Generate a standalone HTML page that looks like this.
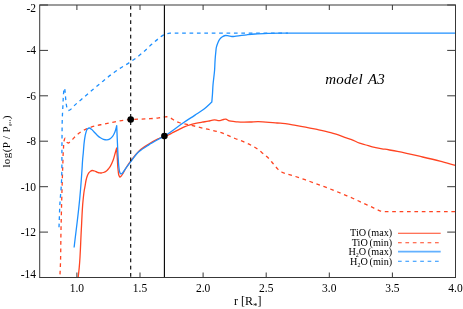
<!DOCTYPE html>
<html><head><meta charset="utf-8"><title>model A3</title>
<style>
html,body{margin:0;padding:0;background:#fff;}
svg{display:block;font-family:"Liberation Serif",serif;will-change:transform;transform:translateZ(0);}
</style></head><body>
<svg width="463" height="309" viewBox="0 0 463 309">
<rect x="0" y="0" width="463" height="309" fill="#ffffff"/>
<g fill="none" stroke-width="1.3" stroke-linejoin="round">
<path stroke="#ff4422" d="M78.20,277.10C78.53,274.03 78.90,270.97 79.20,267.90C80.44,255.31 80.57,242.63 81.30,230.00C81.88,220.00 82.06,209.96 83.10,200.00C83.45,196.66 83.73,193.31 84.30,190.00C84.54,188.63 84.85,187.27 85.10,185.90C85.43,184.11 85.60,182.28 86.00,180.50C86.28,179.26 86.58,178.01 87.00,176.80C87.29,175.95 87.58,175.09 88.00,174.30C88.29,173.75 88.61,173.19 89.00,172.70C89.43,172.15 89.92,171.58 90.50,171.20C91.00,170.87 91.62,170.57 92.20,170.50C92.94,170.41 93.75,170.77 94.50,171.00C95.51,171.31 96.40,171.95 97.40,172.30C98.09,172.54 98.79,172.79 99.50,172.90C100.09,172.99 100.71,173.04 101.30,173.00C102.04,172.95 102.79,172.74 103.50,172.50C104.52,172.15 105.54,171.65 106.40,171.00C107.20,170.40 107.85,169.58 108.50,168.80C109.15,168.01 109.75,167.16 110.30,166.30C111.53,164.36 112.38,162.16 113.20,160.00C114.18,157.41 114.71,154.66 115.50,152.00C115.89,150.67 116.30,149.33 116.70,148.00C116.90,151.33 117.09,154.67 117.30,158.00C117.58,162.33 117.56,166.71 118.20,171.00C118.42,172.51 118.35,174.15 119.00,175.50C119.27,176.06 119.57,177.12 120.00,177.10C120.29,177.09 120.69,176.59 121.00,176.30C121.87,175.48 122.36,174.32 123.00,173.30C124.08,171.58 124.94,169.73 126.00,168.00C127.43,165.67 128.99,163.41 130.60,161.20C133.22,157.61 135.84,153.87 139.10,150.90C141.99,148.27 145.45,146.19 148.80,144.10C151.94,142.14 155.18,140.34 158.50,138.70C160.44,137.74 162.34,136.62 164.40,136.00C165.41,135.70 166.50,135.62 167.50,135.30C169.33,134.72 170.97,133.57 172.70,132.70C174.73,131.68 176.77,130.67 178.80,129.65C180.83,128.63 182.81,127.47 184.90,126.60C186.56,125.91 188.28,125.32 190.00,124.80C191.84,124.24 193.72,123.81 195.60,123.40C197.72,122.93 199.86,122.57 202.00,122.20C204.09,121.84 206.21,121.58 208.30,121.20C210.41,120.82 212.50,119.77 214.60,119.90C215.73,119.97 216.86,120.54 218.00,120.60C218.96,120.65 219.96,120.60 220.90,120.40C221.79,120.22 222.61,119.70 223.50,119.50C224.28,119.32 225.14,119.06 225.90,119.20C226.64,119.34 227.28,119.99 228.00,120.30C228.96,120.70 229.99,120.96 231.00,121.20C233.14,121.71 235.40,121.74 237.60,121.90C241.72,122.20 245.87,122.12 250.00,122.00C252.60,121.93 255.20,121.63 257.80,121.60C263.71,121.52 269.60,122.52 275.50,122.90C277.10,123.00 278.70,123.07 280.30,123.20C285.43,123.62 290.51,124.58 295.60,125.40C298.91,125.93 302.21,126.48 305.50,127.10C308.94,127.75 312.37,128.47 315.80,129.20C320.78,130.26 325.80,131.22 330.70,132.60C332.48,133.10 334.24,133.64 336.00,134.20C339.71,135.38 343.30,136.92 347.00,138.10C348.30,138.51 349.62,138.86 350.90,139.30C353.89,140.33 356.62,142.05 359.60,143.10C361.69,143.84 363.87,144.36 366.00,145.00C368.07,145.62 370.11,146.35 372.20,146.90C376.39,148.00 380.73,148.44 385.00,149.20C389.13,149.94 393.28,150.61 397.40,151.40C405.85,153.02 414.22,155.04 422.60,157.00C428.41,158.36 434.22,159.73 440.00,161.20C445.15,162.51 450.27,163.93 455.40,165.30"/>
<path stroke="#ff4422" stroke-dasharray="3.7 3.7" d="M60.00,274.40C60.10,272.27 60.21,270.13 60.30,268.00C60.84,255.34 60.73,242.67 61.00,230.00C61.29,216.67 61.61,203.33 62.00,190.00C62.24,181.67 62.49,173.33 62.80,165.00C63.01,159.33 63.04,153.65 63.50,148.00C63.72,145.33 63.47,142.53 64.30,140.00C64.50,139.39 64.71,138.16 65.00,138.20C65.23,138.23 65.55,139.06 65.80,139.50C66.34,140.46 66.34,141.93 67.20,142.50C67.56,142.74 68.09,143.05 68.50,143.00C68.89,142.95 69.25,142.55 69.60,142.30C70.50,141.66 71.21,140.78 72.00,140.00C73.37,138.64 74.58,137.11 76.00,135.80C77.27,134.63 78.60,133.49 80.00,132.50C82.28,130.89 84.83,129.60 87.40,128.50C89.84,127.45 92.43,126.70 95.00,126.00C97.82,125.24 100.73,124.80 103.60,124.20C107.40,123.40 111.19,122.52 115.00,121.80C118.75,121.09 122.50,120.26 126.30,119.90C127.83,119.76 129.37,119.69 130.90,119.60C135.60,119.31 140.30,119.10 145.00,118.90C146.67,118.83 148.34,118.80 150.00,118.70C152.91,118.53 155.81,118.28 158.70,117.90C160.61,117.65 162.49,117.19 164.40,117.00C165.43,116.90 166.50,116.65 167.50,116.80C168.39,116.93 169.27,117.33 170.10,117.70C171.68,118.39 172.98,119.67 174.50,120.50C175.89,121.25 177.31,122.00 178.80,122.50C180.22,122.98 181.73,123.17 183.20,123.50C185.46,124.01 187.74,124.48 190.00,125.00C195.02,126.15 200.00,127.48 205.00,128.70C210.00,129.92 215.12,130.73 220.00,132.30C225.17,133.96 230.05,136.47 235.10,138.50C239.29,140.19 243.65,141.52 247.70,143.50C251.18,145.20 254.65,147.05 257.80,149.30C259.61,150.59 261.29,152.07 263.00,153.50C265.03,155.20 267.17,156.80 269.00,158.70C270.44,160.20 271.66,161.91 273.00,163.50C274.52,165.31 275.97,167.19 277.60,168.90C278.22,169.55 278.79,170.26 279.50,170.80C280.11,171.27 280.81,171.65 281.50,172.00C282.21,172.35 282.97,172.60 283.70,172.90C289.27,174.63 294.88,176.23 300.40,178.10C303.62,179.19 306.80,180.35 310.00,181.50C315.21,183.37 320.43,185.22 325.60,187.20C327.91,188.08 330.20,188.99 332.50,189.90C337.35,191.82 342.20,193.75 347.00,195.80C349.07,196.68 351.14,197.59 353.20,198.50C357.83,200.56 362.38,202.81 367.00,204.90C369.16,205.88 371.34,206.82 373.50,207.80C375.88,208.88 378.09,210.43 380.60,211.10C381.39,211.31 382.20,211.43 383.00,211.60C407.17,211.60 431.33,211.60 455.50,211.60"/>
<path stroke="#1e90ff" d="M74.10,247.50C75.93,231.67 78.10,215.87 79.60,200.00C79.91,196.67 80.22,193.33 80.50,190.00C81.12,182.67 81.62,175.34 82.10,168.00C82.27,165.33 82.38,162.66 82.60,160.00C82.77,157.90 83.00,155.80 83.20,153.70C83.61,149.37 83.76,145.00 84.40,140.70C84.80,137.99 85.02,135.19 85.90,132.60C86.32,131.37 86.48,129.81 87.40,129.00C87.93,128.54 88.75,127.99 89.40,128.00C90.12,128.01 90.85,128.80 91.50,129.30C92.41,130.00 93.10,130.97 93.90,131.80C94.93,132.87 95.91,133.99 97.00,135.00C98.08,135.99 99.17,137.01 100.40,137.80C101.37,138.42 102.41,139.05 103.50,139.40C104.58,139.74 105.78,139.99 106.90,139.90C107.78,139.83 108.72,139.60 109.50,139.20C110.33,138.78 111.05,138.08 111.70,137.40C112.39,136.69 112.98,135.85 113.50,135.00C114.11,134.00 114.58,132.90 115.00,131.80C115.41,130.73 115.70,129.61 116.00,128.50C116.26,127.54 116.47,126.57 116.70,125.60C116.93,131.17 117.15,136.73 117.40,142.30C117.65,147.70 117.82,153.11 118.20,158.50C118.43,161.67 118.52,164.86 119.00,168.00C119.22,169.44 119.22,170.98 119.80,172.30C120.00,172.75 120.11,173.37 120.50,173.60C120.72,173.73 121.05,173.81 121.30,173.80C121.74,173.78 122.15,173.31 122.50,173.00C123.15,172.42 123.50,171.53 124.00,170.80C126.12,167.74 128.32,164.74 130.60,161.80C133.32,158.31 135.84,154.53 139.10,151.60C142.00,149.00 145.48,147.00 148.80,144.90C151.95,142.91 155.24,141.11 158.50,139.30C160.46,138.21 162.46,137.22 164.40,136.10C170.96,132.31 176.72,127.25 183.00,123.00C186.97,120.32 191.01,117.75 195.00,115.10C198.04,113.08 201.23,111.24 204.10,109.00C206.81,106.88 209.23,104.40 211.80,102.10C212.00,99.73 212.22,97.37 212.40,95.00C212.65,91.67 212.74,88.33 213.00,85.00C213.39,79.99 214.24,75.01 214.60,70.00C214.84,66.67 214.86,63.33 215.10,60.00C215.29,57.33 215.51,54.66 215.80,52.00C215.98,50.40 216.04,48.76 216.40,47.20C216.73,45.77 217.23,44.36 217.80,43.00C218.32,41.77 218.81,40.46 219.60,39.40C220.27,38.50 221.09,37.64 222.00,37.00C223.00,36.30 224.21,35.64 225.40,35.50C226.40,35.38 227.47,35.74 228.50,35.90C229.64,36.07 230.76,36.44 231.90,36.50C233.26,36.57 234.63,36.24 236.00,36.10C239.61,35.73 243.19,35.19 246.80,34.80C249.53,34.51 252.26,34.21 255.00,34.00C259.32,33.66 263.66,33.53 268.00,33.40C273.00,33.25 278.00,33.24 283.00,33.20C288.67,33.16 294.33,33.20 300.00,33.20C351.83,33.20 403.67,33.20 455.50,33.20"/>
<path stroke="#1e90ff" stroke-dasharray="3.7 3.7" d="M59.00,227.30C59.43,217.53 59.54,207.74 60.30,198.00C60.51,195.33 60.79,192.67 61.00,190.00C62.30,173.39 61.74,156.67 62.00,140.00C62.11,132.73 62.04,125.46 62.30,118.20C62.47,113.46 62.75,108.73 63.00,104.00C63.19,100.33 63.21,96.65 63.60,93.00C63.74,91.66 63.67,90.27 64.10,89.00C64.21,88.66 64.39,88.10 64.50,88.00C64.71,87.82 64.78,89.33 64.90,90.00C65.29,92.24 65.27,94.54 65.50,96.80C65.86,100.27 66.03,103.80 66.80,107.20C66.98,108.00 67.03,108.87 67.40,109.60C67.54,109.88 67.67,110.26 67.90,110.40C68.17,110.57 68.65,110.48 69.00,110.40C69.39,110.31 69.75,110.02 70.10,109.80C71.37,109.00 72.22,107.65 73.30,106.60C77.02,102.98 81.07,99.70 85.00,96.30C89.95,92.01 94.99,87.82 100.00,83.60C101.27,82.53 102.52,81.45 103.80,80.40C108.99,76.14 114.41,72.12 120.00,68.40C123.46,66.09 127.15,64.13 130.60,61.80C133.11,60.10 135.61,58.36 138.00,56.50C140.48,54.57 142.85,52.49 145.20,50.40C147.52,48.33 149.67,46.06 152.00,44.00C154.27,42.00 156.60,40.05 159.00,38.20C160.15,37.31 161.25,36.31 162.50,35.60C163.78,34.87 165.19,34.32 166.60,33.90C167.71,33.57 168.86,33.35 170.00,33.20C171.65,32.99 173.33,33.10 175.00,33.10C176.67,33.10 178.33,33.17 180.00,33.20C216.00,33.20 252.00,33.20 288.00,33.20"/>
</g>
<g stroke="#000" stroke-width="1.1">
<line x1="130.7" y1="5.8" x2="130.7" y2="277.5" stroke-dasharray="3.8 3.42"/>
<line x1="164.4" y1="5.0" x2="164.4" y2="277.5"/>
</g>
<circle cx="130.7" cy="119.5" r="3.3" fill="#000"/>
<circle cx="164.4" cy="136.1" r="3.3" fill="#000"/>
<g stroke="#383838" stroke-width="1" fill="none">
<rect x="39.7" y="5.0" width="415.8" height="272.5"/>
<line x1="76.9" y1="277.5" x2="76.9" y2="272.5"/><line x1="76.9" y1="5.0" x2="76.9" y2="10.0"/><line x1="140.0" y1="277.5" x2="140.0" y2="272.5"/><line x1="140.0" y1="5.0" x2="140.0" y2="10.0"/><line x1="203.1" y1="277.5" x2="203.1" y2="272.5"/><line x1="203.1" y1="5.0" x2="203.1" y2="10.0"/><line x1="266.2" y1="277.5" x2="266.2" y2="272.5"/><line x1="266.2" y1="5.0" x2="266.2" y2="10.0"/><line x1="329.3" y1="277.5" x2="329.3" y2="272.5"/><line x1="329.3" y1="5.0" x2="329.3" y2="10.0"/><line x1="392.4" y1="277.5" x2="392.4" y2="272.5"/><line x1="392.4" y1="5.0" x2="392.4" y2="10.0"/><line x1="455.5" y1="277.5" x2="455.5" y2="272.5"/><line x1="455.5" y1="5.0" x2="455.5" y2="10.0"/><line x1="39.7" y1="5.0" x2="48.0" y2="5.0"/><line x1="455.5" y1="5.0" x2="447.2" y2="5.0"/><line x1="39.7" y1="50.4" x2="48.0" y2="50.4"/><line x1="455.5" y1="50.4" x2="447.2" y2="50.4"/><line x1="39.7" y1="95.8" x2="48.0" y2="95.8"/><line x1="455.5" y1="95.8" x2="447.2" y2="95.8"/><line x1="39.7" y1="141.2" x2="48.0" y2="141.2"/><line x1="455.5" y1="141.2" x2="447.2" y2="141.2"/><line x1="39.7" y1="186.7" x2="48.0" y2="186.7"/><line x1="455.5" y1="186.7" x2="447.2" y2="186.7"/><line x1="39.7" y1="232.1" x2="48.0" y2="232.1"/><line x1="455.5" y1="232.1" x2="447.2" y2="232.1"/><line x1="39.7" y1="277.5" x2="48.0" y2="277.5"/><line x1="455.5" y1="277.5" x2="447.2" y2="277.5"/>
</g>
<g font-size="11.5px" fill="#000">
<text x="76.9" y="292.3" text-anchor="middle">1.0</text><text x="140.0" y="292.3" text-anchor="middle">1.5</text><text x="203.1" y="292.3" text-anchor="middle">2.0</text><text x="266.2" y="292.3" text-anchor="middle">2.5</text><text x="329.3" y="292.3" text-anchor="middle">3.0</text><text x="392.4" y="292.3" text-anchor="middle">3.5</text><text x="455.5" y="292.3" text-anchor="middle">4.0</text>
<text x="36.0" y="11.6" text-anchor="end">-2</text><text x="36.0" y="54.2" text-anchor="end">-4</text><text x="36.0" y="99.6" text-anchor="end">-6</text><text x="36.0" y="145.0" text-anchor="end">-8</text><text x="36.0" y="190.5" text-anchor="end">-10</text><text x="36.0" y="235.9" text-anchor="end">-12</text><text x="36.0" y="277.9" text-anchor="end">-14</text>
</g>
<text x="325.3" y="84.4" font-size="15px" font-style="italic" fill="#000" letter-spacing="0.15px" word-spacing="1.6px">model A3</text>
<text x="234" y="305.3" font-size="12px" fill="#000">r [R<tspan font-size="9px" dy="4">*</tspan><tspan dy="-4">]</tspan></text>
<text transform="translate(10.2,167.6) rotate(-90)" font-size="11px" letter-spacing="0.4px" fill="#000">log(P / P<tspan font-size="4px" dy="1">gas</tspan><tspan dy="-1">)</tspan></text>
<g font-size="10.2px" fill="#000" text-anchor="end" word-spacing="-0.8px">
<text x="392.2" y="236.2">TiO (max)</text>
<text x="392.2" y="245.7">TiO (min)</text>
<text x="392.2" y="255.2">H<tspan font-size="6px" dy="2">2</tspan><tspan dy="-2">O (max)</tspan></text>
<text x="392.2" y="264.7">H<tspan font-size="6px" dy="2">2</tspan><tspan dy="-2">O (min)</tspan></text>
</g>
<g fill="none">
<line x1="398" y1="233.3" x2="440.7" y2="233.3" stroke="#ff4422" stroke-width="1.1"/>
<line x1="398" y1="242.7" x2="440.7" y2="242.7" stroke="#ff4422" stroke-width="1.1" stroke-dasharray="3.7 3.7"/>
<line x1="398" y1="251.6" x2="440.7" y2="251.6" stroke="#63b1ff" stroke-width="1.8"/>
<line x1="398" y1="261.3" x2="440.7" y2="261.3" stroke="#1e90ff" stroke-width="1.1" stroke-dasharray="3.7 3.7"/>
</g>
</svg>
</body></html>
